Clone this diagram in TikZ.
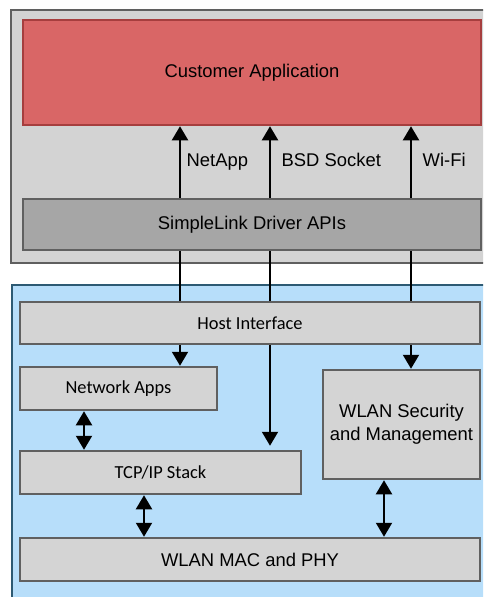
\documentclass[tikz,border=0pt]{standalone}
\usepackage{fontspec}
\setmainfont{Liberation Sans}
\newfontfamily\calibri{Carlito}
\usetikzlibrary{arrows.meta}

\definecolor{hostfill}{RGB}{211,211,211}
\definecolor{hostline}{RGB}{95,95,95}
\definecolor{appfill}{RGB}{217,102,102}
\definecolor{appline}{RGB}{166,62,62}
\definecolor{drvfill}{RGB}{166,166,166}
\definecolor{chipfill}{RGB}{183,222,250}
\definecolor{chipline}{RGB}{45,90,115}
\definecolor{boxfill}{RGB}{212,212,212}
\definecolor{boxline}{RGB}{96,96,96}

\begin{document}
\begin{tikzpicture}[x=1pt, y=-1pt, >={Triangle[length=14pt, width=16pt]},
    box/.style={rectangle, draw=boxline, fill=boxfill, line width=2.5pt, inner sep=0pt, align=center, font=\fontsize{18.4}{23}\selectfont},
    cbox/.style={box, font=\calibri\fontsize{18.4}{23}\selectfont},
    lbl/.style={anchor=base west, inner sep=0pt, font=\fontsize{18.4}{23}\selectfont},
    link/.style={line width=2pt}]
    \path[use as bounding box, clip] (0,0) rectangle (483,597);

    % Host side.
    \draw[line width=2.5pt, draw=hostline, fill=hostfill] (11,10) rectangle (495,263);
    \node[box, fill=appfill, draw=appline, minimum width=458pt, minimum height=105pt] (App) at (252,72.5) {Customer Application};
    \node[box, fill=drvfill, minimum width=458pt, minimum height=51pt] (Drv) at (252,224.5) {SimpleLink Driver APIs};

    % Network processor.
    \draw[line width=2.5pt, draw=chipline, fill=chipfill] (12,285) rectangle (495,610);
    \node[cbox, minimum width=460pt, minimum height=42pt] (Host) at (250,323) {Host Interface};
    \node[cbox, minimum width=197pt, minimum height=43pt] (Apps) at (118.5,388.5) {Network Apps};
    \node[cbox, minimum width=281pt, minimum height=43pt] (TCP) at (160.5,472.5) {TCP/IP Stack};
    \node[box, minimum width=157pt, minimum height=109pt] (Sec) at (401.5,424.5) {WLAN Security\\and Management};
    \node[box, minimum width=460pt, minimum height=43pt] (MAC) at (250,559.5) {WLAN MAC and PHY};

    % Driver to application.
    \foreach \x in {180,270,411}
        \draw[link, ->] (Drv.north -| \x,0) -- (App.south -| \x,0);
    \foreach \x in {180,270,411}
        \draw[link] (Host.north -| \x,0) -- (Drv.south -| \x,0);
    \node[lbl] (L-net) at (186.5,166) {NetApp};
    \node[lbl] (L-bsd) at (281.5,166) {BSD Socket};
    \node[lbl] (L-wifi) at (422.5,166) {Wi-Fi};

    % Host interface connections.
    \draw[link, ->] (Host.south -| 180,0) -- (Apps.north -| 180,0);
    \draw[link, ->] (Host.south -| 270,0) -- ([yshift=4pt]TCP.north -| 270,0);
    \draw[link, ->] (Host.south -| 411,0) -- (Sec.north -| 411,0);
    \draw[link, <->] (Apps.south -| 84,0) -- (TCP.north -| 84,0);
    \draw[link, <->] (TCP.south -| 144,0) -- (MAC.north -| 144,0);
    \draw[link, <->] (Sec.south -| 384,0) -- (MAC.north -| 384,0);

\end{tikzpicture}
\end{document}
